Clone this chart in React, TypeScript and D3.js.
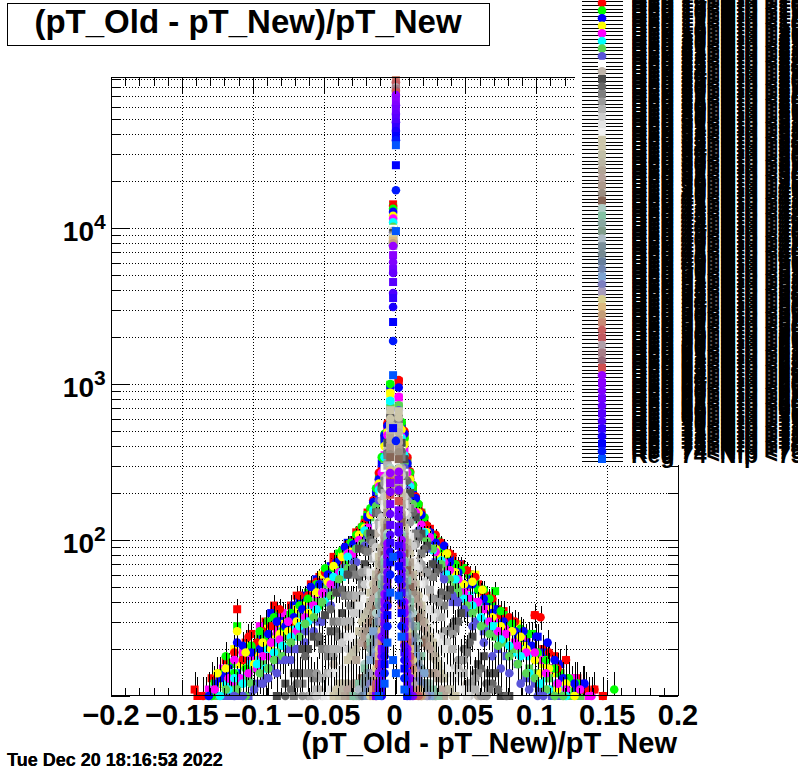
import React from "react";
import * as d3 from "d3";

// Each series: flat list of bin (in units of 0.001), count, bin, count ...
const red1 = [-141,11,-139,10,-111,36,-95,25,-85,38,-77,33,-69,44,-59,52,-53,58,-43,78,-35,88,-27,112,-19,150,-13,205,-9,285,-5,520,3,1040,7,470,11,260,17,165,25,118,35,90,47,70,59,52,69,40,77,35,87,27,99,33,113,18,121,17,129,13,141,11,147,10,-129,13,-119,17,-105,22,-101,25,-91,30,-81,28,-73,38,-63,42,-47,60,-39,76,-31,90,-23,120,-15,170,-11,240,-7,450,5,540,9,330,13,215,21,135,29,100,41,78,53,60,65,44,73,36,81,29,93,24,105,20,117,14,135,11];
const green1 = [-127,12,-111,28,-99,20,-89,30,-75,33,-65,42,-57,50,-47,62,-39,82,-29,100,-21,135,-15,170,-11,255,-7,430,-3,990,5,560,9,320,15,180,21,135,31,98,39,78,49,66,57,54,71,47,69,38,81,28,91,22,103,17,117,14,127,11,137,10,-121,12,-115,16,-107,17,-95,24,-83,34,-79,21,-71,36,-61,46,-53,38,-43,56,-35,70,-25,115,-19,145,7,460,13,205,19,150,27,108,37,70,45,60,53,60,63,40,77,33,87,24,97,25,109,15,121,13];
const blue1 = [-117,15,-105,18,-93,24,-81,32,-71,38,-63,44,-55,56,-45,68,-33,96,-23,118,-13,200,-7,440,-3,930,5,520,13,195,23,118,33,90,45,70,55,56,65,40,75,32,87,24,101,24,111,15,125,12,133,12,-125,12,-111,14,-99,18,-87,34,-77,24,-67,40,-59,38,-49,60,-39,62,-29,100,-19,140,-9,310,9,300,17,150,27,100,39,76,49,52,59,48,71,36,81,26,93,22,105,19,117,16,129,11];
const yellow1 = [-113,20,-109,16,-103,21,-91,27,-79,29,-69,36,-57,48,-51,60,-37,84,-27,104,-15,160,-9,250,-3,870,7,440,15,160,27,105,37,82,45,66,57,60,61,46,73,32,87,29,97,20,105,16,119,12,131,10,-133,10,-121,12,-117,14,-97,18,-85,24,-73,26,-63,38,-45,50,-31,80,-21,125,-11,220,-5,470,5,500,11,230,21,118,31,88,41,66,51,46,67,36,79,24,91,21,101,18,111,14,125,12];
const magenta1 = [-121,15,-111,12,-101,17,-89,22,-83,26,-75,27,-63,34,-55,42,-45,58,-33,88,-21,126,-11,230,-5,500,3,820,11,240,21,125,33,80,43,58,51,50,63,36,79,27,91,24,99,18,111,15,127,13,137,10,-131,11,-115,12,-107,19,-95,28,-87,18,-79,34,-69,30,-59,38,-49,44,-39,60,-27,92,-15,150,-7,350,7,380,15,165,27,88,37,62,47,44,57,40,71,30,85,22,105,17,117,12];
const cyan1 = [-131,10,-119,12,-107,13,-95,17,-85,22,-73,28,-65,32,-53,46,-41,68,-31,92,-19,130,-9,240,-3,770,5,470,9,260,19,135,31,85,41,62,53,44,65,30,77,24,89,20,101,14,115,12,125,10,-127,11,-113,14,-101,16,-91,20,-79,26,-69,24,-59,36,-47,44,-37,58,-25,96,-13,165,-5,430,13,175,25,104,37,58,47,48,59,38,71,28,83,19,95,18,107,13,119,11];
const mgreen1 = [-125,10,-115,11,-103,13,-93,16,-83,19,-71,30,-61,33,-49,52,-37,70,-25,102,-17,140,-7,330,3,720,7,330,17,135,25,105,37,66,47,48,59,36,71,24,83,20,95,15,109,13,119,10,131,10,-121,10,-109,12,-99,15,-87,22,-77,24,-65,34,-55,40,-43,54,-31,76,-21,104,-11,205,-3,700,5,360,11,210,21,120,31,76,43,50,53,40,65,28,77,22,89,19,101,14,113,11,125,10];
const slate1 = [-119,10,-109,10,-97,12,-87,15,-75,20,-67,25,-59,31,-47,46,-35,66,-23,100,-13,170,-5,380,-3,670,5,380,13,170,23,98,35,60,45,44,57,30,67,26,79,18,93,13,103,11,117,10,-115,10,-103,10,-91,13,-81,17,-71,20,-63,26,-53,30,-41,50,-29,74,-17,120,-9,220,9,210,19,110,29,72,41,40,51,34,63,26,73,20,87,16,99,12,111,10];
const red2 = [-135,10,-117,13,-107,17,-97,22,-87,28,-73,30,-61,44,-49,62,-39,74,-29,100,-21,130,-11,270,-5,560,3,1060,9,340,13,225,19,150,29,108,39,82,51,64,63,46,75,33,85,30,99,33,103,32,121,17,141,11,147,10,-127,11,-113,19,-103,24,-93,26,-81,36,-67,44,-55,54,-43,72,-33,94,-25,115,-17,155,-15,180,7,500,11,275,15,190,23,124,33,96,45,70,57,58,69,42,81,32,91,26,109,19,115,15,133,11];
const green2 = [-129,10,-119,18,-105,15,-91,24,-79,26,-67,38,-55,52,-43,66,-31,96,-23,122,-13,215,-9,340,-3,1000,5,570,11,270,17,170,27,105,37,80,47,64,59,48,67,42,83,29,95,25,107,17,123,13,155,11,-123,14,-113,14,-101,21,-95,26,-85,32,-73,34,-61,42,-49,66,-37,86,-27,108,-17,160,-7,480,7,450,13,225,21,140,33,86,43,70,53,52,63,48,75,35,89,27,101,19,113,15,129,12];
const blue2 = [-123,13,-111,22,-101,19,-89,25,-77,28,-65,36,-53,52,-41,72,-29,94,-19,140,-11,245,-5,540,3,950,9,310,15,185,25,112,35,92,45,62,55,52,69,34,85,26,100,24,108,22,119,13,134,12,-131,10,-119,14,-107,21,-95,20,-83,30,-71,32,-59,50,-47,60,-35,90,-23,110,-15,175,-7,470,7,480,11,245,19,145,29,96,39,72,51,52,63,42,77,30,91,26,97,21,113,17,127,12];
const yellow2 = [-125,14,-111,26,-99,16,-87,20,-75,26,-61,34,-47,54,-37,78,-25,108,-17,145,-7,400,-3,880,7,410,17,150,29,88,37,82,49,52,62,48,75,28,93,20,103,14,115,11,127,10,-119,15,-105,19,-93,22,-81,25,-69,30,-55,46,-43,68,-31,84,-21,120,-11,230,-5,490,5,510,11,245,23,112,33,78,43,62,55,54,69,32,83,26,89,24,99,17,109,15,121,12];
const magenta2 = [-127,11,-113,17,-103,14,-93,18,-81,23,-69,26,-57,38,-45,52,-33,82,-25,100,-15,150,-9,270,3,830,9,270,15,150,25,104,35,72,45,56,53,42,67,30,79,25,93,19,107,14,121,11,139,10,-117,13,-109,13,-97,15,-87,22,-75,30,-63,32,-51,46,-39,62,-29,82,-19,120,-11,220,-5,470,5,460,11,225,19,125,29,84,39,64,49,46,59,40,73,26,87,21,99,19,115,12,131,11];
const cyan2 = [-123,10,-113,13,-101,12,-91,15,-79,21,-67,28,-55,36,-43,58,-33,78,-21,115,-11,210,-3,780,5,450,11,220,21,112,33,74,43,56,55,38,69,28,81,21,95,14,109,11,-117,11,-107,12,-97,16,-85,19,-73,24,-61,30,-49,40,-37,62,-27,88,-15,155,-7,340,7,350,15,140,27,86,37,60,49,42,61,32,75,23,89,18,103,12,121,10];
const mgreen2 = [-119,11,-105,10,-95,14,-85,17,-73,22,-63,29,-51,40,-39,56,-27,88,-19,110,-9,220,3,730,7,310,19,105,27,88,39,56,51,38,61,28,73,21,87,16,99,13,113,10,119,10,-111,11,-101,12,-89,15,-79,18,-67,24,-57,32,-45,44,-33,66,-23,95,-13,165,-5,420,5,400,13,170,23,98,33,70,45,46,55,34,67,25,81,18,93,14,107,11];
const slate2 = [-113,10,-99,11,-89,13,-77,17,-69,20,-57,26,-45,38,-33,60,-21,92,-11,180,-5,370,3,680,9,210,17,115,29,68,41,44,49,36,63,22,75,15,89,12,101,10,105,10,-107,10,-93,12,-83,14,-73,17,-63,22,-51,30,-39,46,-27,72,-17,110,-7,290,7,290,13,150,23,88,35,56,45,40,55,28,69,18,81,14,95,11];
const white = [-61,11,-49,17,-41,24,-33,38,-25,52,-17,82,-9,200,-3,640,5,380,9,200,15,95,23,60,33,36,43,24,53,15,63,11,-69,10,-55,13,-45,20,-37,30,-29,44,-21,64,-13,120,-7,290,-5,400,3,650,7,270,11,160,19,74,27,48,37,30,47,19,57,13,71,10];
const tanGray = [-57,10,-47,14,-37,22,-27,40,-19,64,-13,110,-7,250,3,620,7,240,13,105,19,62,29,34,39,20,51,12,59,10,-53,11,-43,16,-33,28,-23,50,-15,88,-9,180,-5,380,-3,620,5,370,11,150,17,74,25,44,35,26,45,15,55,11];
const gray4c = [-83,10,-71,14,-65,20,-57,24,-49,33,-41,46,-33,60,-25,88,-17,110,-9,220,3,600,7,330,15,140,23,92,31,66,39,48,47,34,55,24,63,18,71,14,81,10,-77,12,-67,14,-61,20,-53,22,-45,26,-37,34,-29,62,-21,70,-13,150,-5,420,-3,610,5,420,11,200,19,110,27,70,35,44,43,30,51,20,59,16,67,14,75,10];
const gray66 = [-77,10,-69,12,-63,18,-53,24,-45,36,-37,48,-29,66,-21,86,-13,150,-5,360,-3,580,5,370,13,150,21,88,29,62,37,44,45,30,53,22,61,15,69,12,79,10,-73,11,-59,14,-49,20,-41,26,-33,44,-25,58,-17,100,-9,210,3,590,9,240,17,104,25,60,33,46,41,28,49,20,57,14,65,12,73,11];
const gray7f = [-71,10,-61,14,-51,20,-43,30,-35,44,-27,60,-19,84,-11,150,-3,560,7,260,11,160,19,82,27,58,35,38,43,27,51,19,59,14,67,11,-65,12,-57,13,-47,18,-39,24,-31,38,-23,52,-15,96,-7,240,-5,350,3,570,5,340,15,110,23,64,31,42,39,26,47,17,55,12,63,10];
const gray99 = [-65,10,-55,14,-47,20,-39,30,-31,44,-23,62,-15,96,-7,230,3,540,5,290,15,94,23,62,31,40,41,25,49,17,57,13,65,10,-61,10,-51,13,-43,18,-35,24,-27,38,-19,60,-11,130,-5,310,-3,550,9,180,11,130,19,70,27,42,35,26,45,17,53,12,61,10];
const grayb2 = [-59,10,-51,13,-43,20,-35,30,-27,44,-19,64,-11,125,-5,300,-3,520,9,160,17,72,25,48,33,32,41,20,49,14,57,11,-55,11,-47,14,-39,20,-31,30,-23,44,-15,76,-7,200,3,530,5,280,13,92,21,52,29,34,37,22,45,15,53,11];
const graycc = [-55,10,-45,14,-37,22,-29,34,-21,52,-13,90,-7,190,3,500,7,190,13,92,21,54,29,34,37,22,45,14,53,10,-51,10,-41,14,-33,20,-25,34,-17,58,-9,140,-5,260,-3,510,5,260,9,145,17,66,25,36,33,24,41,15,49,11];
const graye5 = [-49,10,-41,14,-33,24,-25,38,-17,62,-9,125,-3,480,5,230,11,105,19,52,27,32,35,20,43,13,51,10,-45,11,-37,15,-29,22,-21,42,-13,78,-7,170,-5,240,3,490,7,170,15,68,23,36,31,22,39,14,47,11];
const grayf2 = [-45,10,-37,14,-29,24,-21,42,-13,80,-7,160,3,460,7,150,13,74,21,42,29,24,37,15,45,11,-41,10,-33,15,-25,26,-17,52,-9,115,-5,220,-3,470,5,220,9,110,17,52,25,28,33,17,41,11];
const c20 = [-43,10,-33,17,-25,26,-17,46,-11,78,-5,190,-3,680,7,120,13,60,19,38,27,22,35,13,43,10,-39,12,-29,18,-21,30,-13,60,-7,130,3,670,5,200,9,90,15,46,23,26,31,16,39,11];
const c21 = [-41,11,-31,18,-23,30,-15,52,-9,90,3,610,5,200,11,82,17,44,25,24,33,14,41,10,-37,12,-27,20,-19,34,-11,66,-7,130,-5,180,-3,600,7,120,13,56,21,30,29,18,37,11];
const c22 = [-39,10,-29,19,-21,32,-13,60,-7,120,-3,540,5,190,9,96,15,52,23,27,31,15,39,11,-35,12,-25,22,-17,40,-9,88,-5,170,3,530,7,110,11,68,19,36,27,20,35,13];
const c23 = [-37,11,-27,20,-19,35,-11,70,-5,170,3,490,7,110,13,58,21,30,29,17,37,11,-33,12,-23,25,-15,46,-9,84,-7,115,-3,480,5,165,9,84,17,40,25,23,33,13];
const c24 = [-35,10,-27,17,-17,38,-9,84,-3,450,5,170,11,72,19,33,27,18,35,10,-31,11,-21,26,-13,54,-7,110,-5,150,3,440,7,105,15,44,23,24,31,13];
const c25 = [-33,11,-23,22,-15,42,-7,105,3,420,9,88,17,38,25,20,33,11,-29,12,-19,28,-11,62,-5,150,-3,410,5,150,7,100,13,52,21,27,29,14];
const c26 = [-31,10,-21,24,-13,48,-5,150,-3,390,7,100,15,42,23,21,31,10,-27,12,-17,30,-9,74,-7,98,3,380,5,140,11,60,19,30,27,14];
const c27 = [-29,10,-19,26,-11,58,-7,95,3,365,5,140,13,46,21,23,29,10,-25,12,-15,34,-9,70,-5,130,-3,355,7,90,9,70,17,32,25,14];
const c28 = [-27,10,-19,21,-13,36,-7,80,-3,340,5,130,11,50,19,22,27,10,-23,13,-15,30,-9,60,-5,120,3,330,7,82,9,64,15,32,23,14];
const c29 = [-27,10,-17,24,-11,44,-5,110,3,290,7,74,13,34,21,14,29,10,-21,16,-13,34,-9,58,-7,76,-3,290,5,110,11,42,17,22,25,12];
const c30 = [-29,10,-21,15,-15,25,-9,52,-3,280,5,105,9,55,15,28,23,12,31,10,-25,12,-17,22,-11,40,-7,72,-5,104,3,280,7,72,11,40,19,18,27,11];
const c31 = [-25,10,-17,20,-11,38,-5,96,3,270,7,62,13,28,19,15,27,10,-21,13,-13,30,-9,46,-7,66,-3,270,5,96,9,46,15,24,23,12];
const c32 = [-23,11,-15,22,-9,44,-3,265,5,90,11,36,17,18,25,10,-19,14,-13,28,-7,62,-5,90,3,265,7,60,13,26,21,12];
const c33 = [-25,11,-17,18,-13,26,-7,58,3,260,7,56,11,33,19,14,25,10,-21,12,-15,20,-11,32,-5,84,-3,260,5,84,9,40,15,20];
const c34 = [-21,12,-15,20,-9,40,-5,85,-3,255,5,85,9,42,15,20,23,11,-19,13,-13,24,-7,56,3,255,7,54,11,30,17,16];
const c35 = [-19,13,-13,24,-7,52,3,250,7,50,13,24,21,12,-23,10,-15,18,-9,38,-5,78,-3,250,5,78,9,36,17,14];
const c36 = [-21,10,-15,18,-11,30,-5,78,-3,245,5,78,11,28,17,15,23,10,-17,14,-13,22,-7,48,3,245,7,48,13,22];
const c37 = [-19,11,-13,20,-7,46,3,240,7,46,13,20,19,12,-15,17,-11,26,-9,34,-5,72,-3,240,5,72,9,34,15,16];
const c38 = [-17,17,-15,26,-9,34,-3,235,5,72,9,32,15,18,21,14,25,10,-19,10,-13,19,-11,24,-7,44,3,235,7,44];
const c39 = [-17,12,-11,24,-5,68,3,230,7,42,11,23,17,13,23,10,-13,18,-9,30,-7,42,-3,230,5,68,9,30,15,15];
const c40 = [-15,14,-9,30,-3,225,5,64,9,28,15,14,21,10,-17,10,-11,22,-7,40,-5,64,3,225,7,40,11,20];
const c41 = [-17,10,-11,20,-5,62,3,285,7,38,13,17,19,10,-13,15,-9,26,-7,38,-3,280,5,60,9,26];
const c42 = [-15,11,-9,26,-3,275,5,58,11,20,17,11,-11,18,-7,36,-5,58,3,270,7,36,13,14];
const c43 = [-13,13,-7,34,3,265,7,34,13,15,19,10,-15,10,-9,24,-5,56,-3,260,5,56,9,24];
const c44 = [-15,10,-9,22,-5,52,-3,255,5,52,9,24,15,11,-11,16,-7,32,3,250,7,32,11,17];
const c45 = [-13,12,-7,30,3,245,7,30,11,18,17,10,-9,20,-5,48,-3,240,5,48,9,22];
const c46 = [-11,16,-5,46,-3,235,5,46,9,22,15,10,-13,11,-7,28,3,232,7,28,11,15];
const c47 = [-13,10,-7,26,3,225,7,26,13,12,-9,18,-5,44,-3,222,5,44,9,20];
const c48 = [-11,14,-5,42,-3,215,5,42,9,19,13,10,-7,24,3,212,7,24,11,13];
const c49 = [-9,18,-7,24,3,205,7,24,11,13,-11,12,-5,40,-3,200,5,40,9,17];
const c50 = [-11,11,-5,38,-3,195,3,178,5,38,9,16,13,10,-7,22,7,22];
const p51 = [-1,7670,-3,269,3,274,-5,95,5,100,-7,45,7,40,-9,24,9,20,-11,14,11,13,-13,10];
const p52 = [-1,6710,-3,232,3,243,-5,86,5,90,-7,40,7,36,-9,20,9,18,-11,12,11,11];
const p53 = [-1,6050,-3,203,3,209,-5,78,5,80,-7,36,7,34,-9,18,9,16,-11,11,13,10];
const p54 = [-1,5460,-3,170,3,155,-5,70,5,72,-7,32,7,30,-9,16,9,14,-13,10];
const p55 = [-1,5150,-3,147,3,141,-5,62,5,64,-7,29,7,27,-9,15,9,13,11,10];
const p56 = [-1,4510,-3,125,3,122,-5,56,5,58,-7,26,7,24,-9,13,9,12];
const p57 = [-1,3830,-3,108,3,112,-5,50,5,52,-7,23,7,21,-9,12,9,11];
const p58 = [-1,3560,-3,96,3,92,-5,44,5,46,-7,20,7,19,-9,11,9,10];
const p59 = [-1,3120,-3,84,3,80,-5,38,5,40,-7,18,7,17,-9,10];
const p60 = [-1,2500,1,25300,-1,522,-3,72,3,68,-5,33,5,34,-7,16,7,15];
const p61 = [-1,1890,1,17500,1,432,-3,60,3,56,-5,28,5,28,-7,14,7,13,9,10];
const p62 = [-1,1140,1,9570,-1,78,-1,17,1,14,-3,46,3,44,-5,22,5,24,-7,12,7,11,-11,10];

const seriesPoints = [red1,green1,blue1,yellow1,magenta1,cyan1,mgreen1,slate1,red2,green2,blue2,yellow2,magenta2,cyan2,mgreen2,slate2,white,tanGray,gray4c,gray66,gray7f,gray99,grayb2,graycc,graye5,grayf2,c20,c21,c22,c23,c24,c25,c26,c27,c28,c29,c30,c31,c32,c33,c34,c35,c36,c37,c38,c39,c40,c41,c42,c43,c44,c45,c46,c47,c48,c49,c50,p51,p52,p53,p54,p55,p56,p57,p58,p59,p60,p61,p62];

// Count in the highest bin of each series; the largest peaks sit just right of zero
const peakCounts = [
  14200,13700,13000,12300,11800,11200,10500,9700,
  13840,13300,12700,12000,11500,10900,10200,9400,
  9900,9600,9300,9100,9000,8900,8800,8700,8600,8500,
  8450,8400,8350,8300,8250,8200,8150,8100,8050,8000,7950,7900,7850,7800,7800,7750,7750,7700,7700,7700,7700,
  8600,8300,8000,89000,86000,83000,80000,78000,76000,74000,
  71300,66200,61400,57900,53800,50700,47800,44400,41900,38900,36600,34000,
];
const seriesColors = [
  "#ff0000","#00ff00","#0000ff","#ffff00","#ff00ff","#00ffff","#59d454","#5954d9",
  "#ff0000","#00ff00","#0000ff","#ffff00","#ff00ff","#00ffff","#59d454","#5954d9",
  "#ffffff","#c0b6ac","#4c4c4c","#666666","#7f7f7f","#999999","#b2b2b2","#cccccc","#e5e5e5","#f2f2f2",
  "#ccc6aa","#ccc6aa","#c1bfa8","#bab5a3","#b2a596","#b7a39b","#ad998c","#9b8e82","#876657","#afcec6","#84c1a3","#89a8a0","#829e8c","#adbcc6","#7a8e99","#758991","#687f9c","#6f85b0","#7ea3d0","#7d7fc0","#a89dbb",
  "#d8d090","#dcb980","#c49e78","#c98a76","#c86060","#c05a60","#b09ea8","#a77e88","#986878","#d05050",
  "#9900ff","#8c00ff","#8000ff","#7300ff","#6600ff","#5900ff","#4d00ff","#3300ff","#1900ff","#0000ff","#0019ff","#0055ff",
];
const xTickLabels = ["\u22120.2","\u22120.15","\u22120.1","\u22120.05","0","0.05","0.1","0.15","0.2"];
const xTickValues = [-0.2,-0.15,-0.1,-0.05,0,0.05,0.1,0.15,0.2];
const yLabelDecades = [2,3,4];
const titleText = "(pT_Old - pT_New)/pT_New";
const firstRegion = 6;

const W = 798, H = 774, L = 111, R = 678, T = 78, B = 696;
const x = d3.scaleLinear().domain([-0.2, 0.2]).range([L, R]);
const y = d3.scaleLog().domain([10, 91700]).range([B, T]);
const FONT = "'Liberation Sans', Arial, sans-serif";

const xMinor = d3.range(-20, 21).map((v) => v / 100);
const yAll: number[] = [];
for (let d = 1; d <= 4; d++) for (let m = 1; m <= 9; m++) { const v = m * 10 ** d; if (v < 91700) yAll.push(v); }

const rowY = (i: number) => 3 + (i - 8) * 7.6;
const isCircle = (i: number) => (i < 8 ? false : i < 16 ? true : i % 2 === 1);

function Marker({ cx, cy, color, circle }: { cx: number; cy: number; color: string; circle: boolean }) {
  return circle ? <circle cx={cx} cy={cy} r={4.3} fill={color} /> : <rect x={cx - 4} y={cy - 4} width={8} height={8} fill={color} />;
}

function Series({ i }: { i: number }) {
  const flat = [peakCounts[i] > 20000 ? 1 : -1, peakCounts[i], ...seriesPoints[i]];
  const pts: [number, number][] = [];
  for (let k = 0; k < flat.length; k += 2) pts.push([flat[k], flat[k + 1]]);
  return (
    <g>
      {pts.map(([b, c], k) => {
        const px = Math.round(x(b / 1000)) + 0.5;
        const lo = Math.min(B, y(Math.max(10, c - Math.sqrt(c))));
        const hi = Math.max(T, y(c + Math.sqrt(c)));
        return <line key={k} x1={px} x2={px} y1={lo} y2={hi} stroke="#000" strokeWidth={1} shapeRendering="crispEdges" />;
      })}
      {pts.map(([b, c], k) => (
        <Marker key={k} cx={x(b / 1000)} cy={y(c)} color={seriesColors[i]} circle={isCircle(i)} />
      ))}
    </g>
  );
}

export default function App() {
  return (
    <svg width={W} height={H} viewBox={`0 0 ${W} ${H}`} style={{ position: "absolute", left: 0, top: 0, background: "#fff", fontFamily: FONT, fontWeight: 700 }}>
      {/* grid */}
      <g stroke="#000" strokeWidth={1} strokeDasharray="1 2" shapeRendering="crispEdges">
        {xTickValues.slice(1, -1).map((v) => <line key={v} x1={x(v) + 0.5} x2={x(v) + 0.5} y1={T} y2={B} />)}
        {yAll.slice(1).map((v) => <line key={v} x1={L} x2={R} y1={Math.round(y(v)) + 0.5} y2={Math.round(y(v)) + 0.5} />)}
      </g>
      {/* series */}
      {seriesPoints.map((_, i) => <Series key={i} i={i} />)}
      {/* axes */}
      <g stroke="#000" strokeWidth={1} shapeRendering="crispEdges">
        <rect x={L + 0.5} y={T - 0.5} width={R - L} height={B - T} fill="none" strokeWidth={1.4} />
        {xMinor.map((v, k) => {
          const len = k % 5 === 0 ? 16 : 8;
          const p = x(v) + 0.5;
          return <g key={k}><line x1={p} x2={p} y1={B} y2={B - len} /><line x1={p} x2={p} y1={T} y2={T + len} /></g>;
        })}
        {yAll.map((v) => {
          const len = [100, 1000, 10000, 10].includes(v) ? 19 : 10;
          const p = Math.round(y(v)) + 0.5;
          return <g key={v}><line x1={L} x2={L + len} y1={p} y2={p} /><line x1={R} x2={R - len} y1={p} y2={p} /></g>;
        })}
      </g>
      {/* tick labels */}
      {xTickValues.map((v, k) => (
        <text key={v} x={x(v)} y={725} textAnchor="middle" fontSize={29}>{xTickLabels[k]}</text>
      ))}
      {yLabelDecades.map((d) => (
        <g key={d}>
          <text x={94} y={y(10 ** d) + 13} textAnchor="end" fontSize={28}>10</text>
          <text x={94} y={y(10 ** d) + 1} fontSize={21}>{d}</text>
        </g>
      ))}
      {/* axis title, date */}
      <text x={677} y={753} textAnchor="end" fontSize={29}>{titleText}</text>
      <text x={7} y={766} fontSize={18}>Tue Dec 20 18:16:52 2022</text>
      <text x={7} y={766} fontSize={18}>Tue Dec 20 18:16:53 2022</text>
      {/* title box */}
      <rect x={7.5} y={3.5} width={482} height={42} fill="#fff" stroke="#000" strokeWidth={1} shapeRendering="crispEdges" />
      <text x={248} y={33} textAnchor="middle" fontSize={33}>{titleText}</text>
      {/* legend */}
      <rect x={575} y={0} width={223} height={465} fill="#fff" />
      {seriesPoints.map((_, i) => {
        const yy = rowY(i);
        const label = `Reg ${i + firstRegion}<Nfp <${i + firstRegion + 1}`;
        return (
          <g key={i}>
            <line x1={582} x2={623} y1={Math.round(yy - 2) + 0.5} y2={Math.round(yy - 2) + 0.5} stroke="#000" shapeRendering="crispEdges" />
            <line x1={582} x2={623} y1={Math.round(yy + 1.8) + 0.5} y2={Math.round(yy + 1.8) + 0.5} stroke="#000" shapeRendering="crispEdges" />
            <Marker cx={602} cy={yy} color={seriesColors[i]} circle={isCircle(i)} />
            <text x={631} y={yy} fontSize={23}>{label}</text>
            <text x={631} y={yy + 4} fontSize={23}>{label}</text>
          </g>
        );
      })}
    </svg>
  );
}
